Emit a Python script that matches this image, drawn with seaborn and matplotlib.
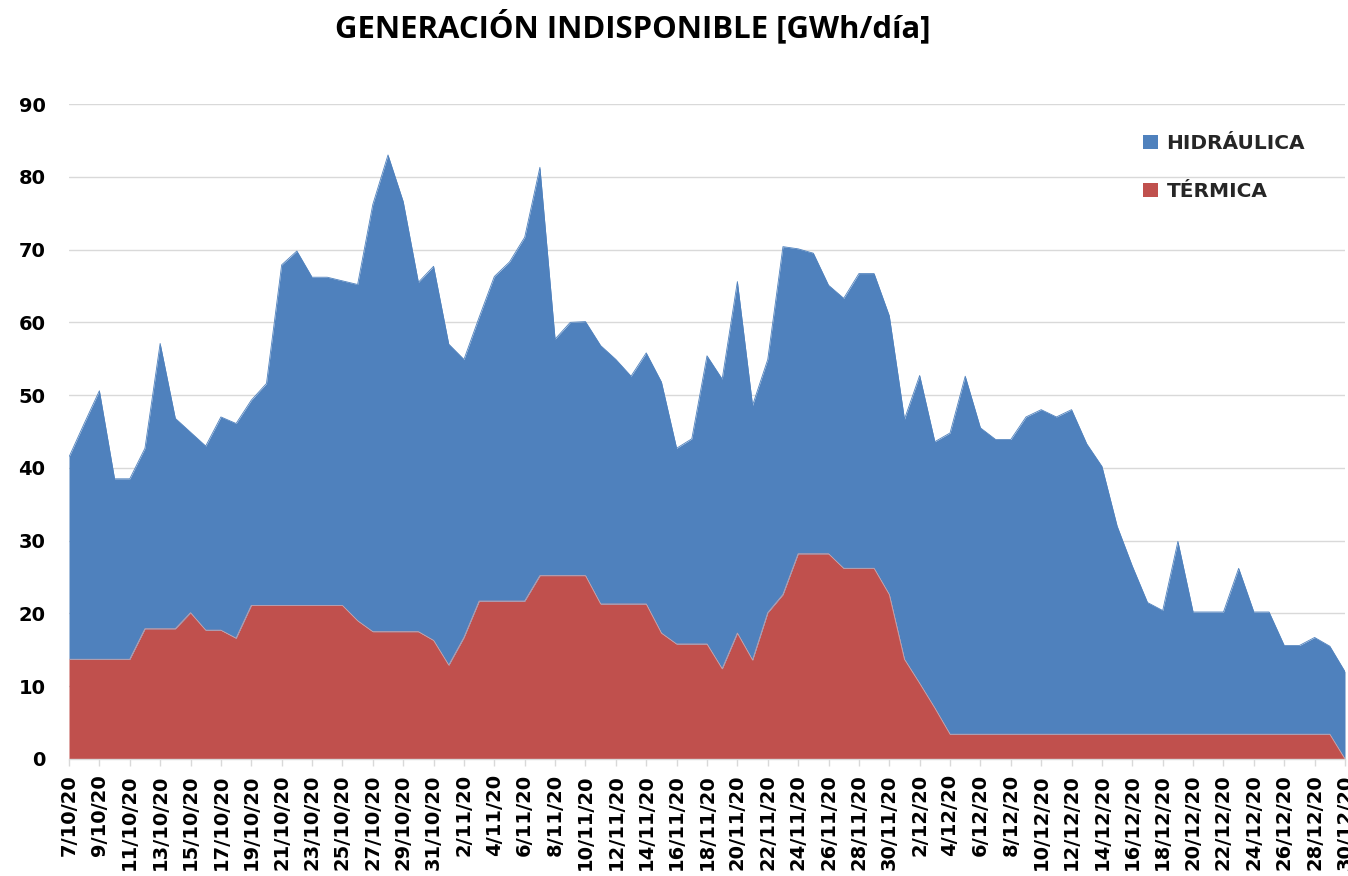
import numpy as np
import pandas as pd
import matplotlib
matplotlib.use("Agg")
import matplotlib.pyplot as plt
from matplotlib.patches import Patch
import seaborn as sns

# Daily unavailable generation, 7 Oct 2020 - 30 Dec 2020 (GWh/day)
start_date = "2020-10-07"
end_date = "2020-12-30"

termica = [
    13.7, 13.7, 13.7, 13.7, 13.7, 17.9, 17.9, 17.9, 20.1, 17.7,
    17.7, 16.6, 21.1, 21.1, 21.1, 21.1, 21.1, 21.1, 21.1, 19.0,
    17.5, 17.5, 17.5, 17.5, 16.3, 12.9, 16.7, 21.7, 21.7, 21.7,
    21.7, 25.2, 25.2, 25.2, 25.2, 21.3, 21.3, 21.3, 21.3, 17.3,
    15.8, 15.8, 15.8, 12.4, 17.3, 13.6, 20.1, 22.6, 28.2, 28.2,
    28.2, 26.2, 26.2, 26.2, 22.6, 13.7, 10.4, 7.0, 3.4, 3.4,
    3.4, 3.4, 3.4, 3.4, 3.4, 3.4, 3.4, 3.4, 3.4, 3.4,
    3.4, 3.4, 3.4, 3.4, 3.4, 3.4, 3.4, 3.4, 3.4, 3.4,
    3.4, 3.4, 3.4, 3.4, 0.0,
]

hidraulica = [
    27.8, 32.4, 36.9, 24.8, 24.8, 24.8, 39.2, 28.9, 24.8, 25.3,
    29.3, 29.5, 28.2, 30.5, 46.8, 48.7, 45.1, 45.1, 44.6, 46.2,
    58.7, 65.5, 59.1, 48.0, 51.4, 44.1, 38.2, 39.0, 44.6, 46.6,
    50.0, 56.1, 32.5, 34.8, 34.9, 35.5, 33.6, 31.3, 34.5, 34.5,
    26.9, 28.2, 39.6, 39.8, 48.3, 35.0, 34.8, 47.8, 41.9, 41.3,
    36.9, 37.1, 40.5, 40.5, 38.3, 33.0, 42.3, 36.6, 41.4, 49.2,
    42.1, 40.5, 40.5, 43.6, 44.6, 43.6, 44.6, 39.9, 36.8, 28.6,
    23.1, 18.1, 17.0, 26.5, 16.8, 16.8, 16.8, 22.8, 16.8, 16.8,
    12.2, 12.2, 13.3, 12.1, 12.0,
]

series_names = ["HIDRÁULICA", "TÉRMICA"]
title_text = "GENERACIÓN INDISPONIBLE [GWh/día]"
y_ticks = [0, 10, 20, 30, 40, 50, 60, 70, 80, 90]

colors = {"HIDRÁULICA": "#4F81BD", "TÉRMICA": "#C0504D"}

dates = pd.date_range(start_date, end_date, freq="D")
df = pd.DataFrame({"fecha": dates, "TÉRMICA": termica, "HIDRÁULICA": hidraulica})
df["total"] = df["TÉRMICA"] + df["HIDRÁULICA"]

sns.set_theme(style="white")
plt.rcParams["font.family"] = ["DejaVu Sans"]

fig = plt.figure(figsize=(13.48, 8.76), dpi=100)
W, H = 1348, 876
ax = fig.add_axes([69 / W, 1 - 759 / H, (1345 - 69) / W, (759 - 104) / H])

# stacked areas: thermal at the bottom, hydro on top of it
ax.fill_between(df["fecha"], 0, df["TÉRMICA"], color=colors["TÉRMICA"], lw=0, zorder=2)
ax.fill_between(df["fecha"], df["TÉRMICA"], df["total"], color=colors["HIDRÁULICA"], lw=0, zorder=2)
sns.lineplot(data=df, x="fecha", y="total", color=colors["HIDRÁULICA"], lw=0.6, ax=ax, zorder=3)
sns.lineplot(data=df, x="fecha", y="TÉRMICA", color="#C9A2A8", lw=0.6, ax=ax, zorder=3)

ax.set_xlim(dates[0], dates[-1])
ax.set_ylim(0, 90)
ax.set_yticks(y_ticks)
ax.set_xlabel("")
ax.set_ylabel("")

ax.grid(axis="y", color="#D9D9D9", lw=1.0, zorder=0)
ax.grid(axis="x", visible=False)
ax.set_axisbelow(True)

for side in ["left", "right", "top"]:
    ax.spines[side].set_visible(False)
ax.spines["bottom"].set_color("#D9D9D9")
ax.spines["bottom"].set_linewidth(1.0)

ax.set_xticks(dates[::2])
ax.set_xticklabels([f"{d.day}/{d.month}/{d.year % 100}" for d in dates[::2]])
ax.tick_params(axis="x", which="both", bottom=True, length=5, width=1, color="#D9D9D9",
               labelrotation=90, labelsize=14, pad=6)
ax.tick_params(axis="y", length=0, labelsize=14, pad=17)
for lbl in ax.get_xticklabels() + ax.get_yticklabels():
    lbl.set_fontweight("bold")
    lbl.set_color("#000000")

handles = [Patch(facecolor=colors[n], edgecolor="none", label=n) for n in series_names]
fig.legend(handles=handles, loc="upper left", bbox_to_anchor=(1143 / W, 1 - 134 / H),
           frameon=False, borderpad=0, borderaxespad=0, handlelength=0.72,
           handleheight=0.7, handletextpad=0.45, labelspacing=1.45,
           prop={"family": "DejaVu Sans", "weight": "bold", "size": 14.5})

fig.text(633 / W, 1 - 27 / H, title_text, ha="center", va="center",
         fontfamily="Open Sans", fontweight="bold", fontsize=22.4, color="#000000")

fig.savefig("out.png", dpi=100, facecolor="white")
